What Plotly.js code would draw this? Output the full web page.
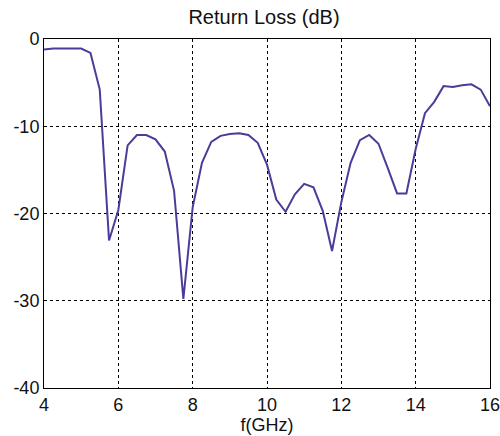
<!DOCTYPE html>
<html>
<head>
<meta charset="utf-8">
<script src="https://cdn.plot.ly/plotly-3.0.1.min.js"></script>
<style>html,body{margin:0;padding:0;background:#fff;}#chart{width:500px;height:436px;}</style>
</head>
<body>
<div id="chart"></div>
<script>
var freqGHz = [4.00,4.25,4.50,4.75,5.00,5.25,5.50,5.75,6.00,6.25,6.50,6.75,7.00,7.25,7.50,7.75,8.00,8.25,8.50,8.75,9.00,9.25,9.50,9.75,10.00,10.25,10.50,10.75,11.00,11.25,11.50,11.75,12.00,12.25,12.50,12.75,13.00,13.25,13.50,13.75,14.00,14.25,14.50,14.75,15.00,15.25,15.50,15.75,16.00];
var returnLossDb = [-1.2,-1.1,-1.1,-1.1,-1.1,-1.6,-5.8,-23.1,-19.6,-12.2,-11.0,-11.0,-11.5,-12.9,-17.4,-29.8,-19.3,-14.2,-11.8,-11.1,-10.9,-10.8,-11.0,-11.9,-14.4,-18.4,-19.8,-17.8,-16.6,-17.0,-19.7,-24.3,-18.7,-14.2,-11.6,-11.0,-12.0,-14.8,-17.7,-17.7,-12.6,-8.5,-7.2,-5.4,-5.5,-5.3,-5.2,-5.8,-7.7];
var xTickVals = [4,6,8,10,12,14,16];
var xTickText = ["4","6","8","10","12","14","16"];
var yTickVals = [0,-10,-20,-30,-40];
var yTickText = ["0","-10","-20","-30","-40"];

var fontFam = "Liberation Sans, Arial, Helvetica, sans-serif";
var trace = {
  x: freqGHz, y: returnLossDb, type: 'scatter', mode: 'lines',
  line: {color: '#4a3c98', width: 2}, hoverinfo: 'skip'
};
var axisCommon = {
  showline: true, linecolor: '#000', linewidth: 1, mirror: true,
  showgrid: true, gridcolor: '#000', gridwidth: 1, griddash: '3px,3px',
  zeroline: false, ticks: '', tickmode: 'array', ticklabeloverflow: 'allow',
  tickfont: {family: fontFam, size: 18, color: '#111'}
};
var layout = {
  width: 500, height: 436,
  margin: {l: 44, r: 10, t: 39, b: 48},
  paper_bgcolor: '#fff', plot_bgcolor: '#fff',
  showlegend: false,
  title: {text: 'Return Loss (dB)', x: 0.528, xanchor: 'center', y: 0.96, yanchor: 'middle',
          font: {family: fontFam, size: 20, color: '#111'}},
  xaxis: Object.assign({}, axisCommon, {
    range: [4, 16], tickvals: xTickVals, ticktext: xTickText,
    title: {text: 'f(GHz)', standoff: 2, font: {family: fontFam, size: 18, color: '#111'}}
  }),
  yaxis: Object.assign({}, axisCommon, {
    range: [-40, 0], tickvals: yTickVals, ticktext: yTickText
  })
};
Plotly.newPlot('chart', [trace], layout, {displayModeBar: false, staticPlot: true});
</script>
</body>
</html>
